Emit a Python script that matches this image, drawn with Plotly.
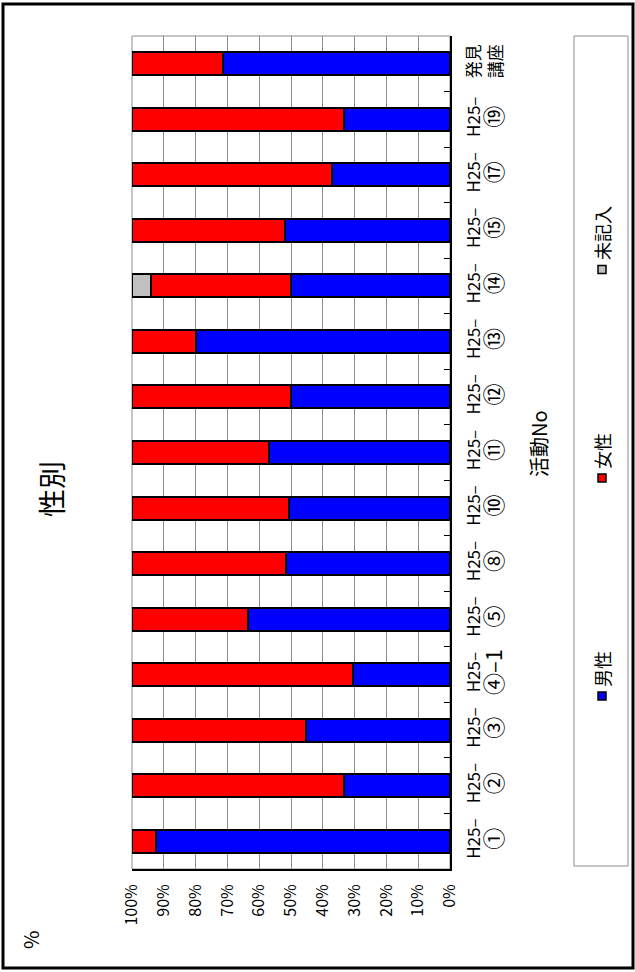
import plotly.graph_objects as go

# Activity numbers (bottom to top) and share of respondents by gender (%)
categories = ["H25-①", "H25-②", "H25-③", "H25-④-1", "H25-⑤",
              "H25-⑧", "H25-⑩", "H25-⑪", "H25-⑫", "H25-⑬",
              "H25-⑭", "H25-⑮", "H25-⑰", "H25-⑲", "発見講座"]
male = [92.4, 33.2, 45.2, 30.6, 63.5, 51.5, 50.7, 56.9, 50.0, 80.0, 50.0, 52.0, 37.0, 33.3, 71.3]
female = [7.6, 66.8, 54.8, 69.4, 36.5, 48.5, 49.3, 43.1, 50.0, 20.0, 44.1, 48.0, 63.0, 66.7, 28.7]
unknown = [0, 0, 0, 0, 0, 0, 0, 0, 0, 0, 5.9, 0, 0, 0, 0]
x_ticks = list(range(0, 101, 10))

W, H = 635, 972
L, R, T, B = 132, 450, 36, 869  # plot area in pixels
FONT = "Noto Sans CJK JP, Liberation Sans, sans-serif"


def px(xp):
    return (xp - L) / (R - L)


def py(yp):
    return (B - yp) / (B - T)


def two_line(cat):
    # "H25-⑤" -> "H25–" over a larger circled number
    if cat.startswith("H25-"):
        rest = cat[4:].replace("-", "–")
        return "H25–<br><span style='font-size:22px'>" + rest + "</span>"
    return cat[:2] + "<br>" + cat[2:]


fig = go.Figure()
for name, vals, col in [("男性", male, "#0000FF"), ("女性", female, "#FF0000"),
                        ("未記入", unknown, "#C0C0C0")]:
    fig.add_trace(go.Bar(
        y=categories, x=vals, name=name, orientation="h",
        marker=dict(color=col, line=dict(color="black", width=2)),
        showlegend=False,
    ))

fig.update_layout(
    width=W, height=H,
    margin=dict(l=L, r=W - R, t=T, b=H - B, pad=0),
    paper_bgcolor="white", plot_bgcolor="white",
    barmode="stack", bargap=0.585,
    font=dict(family=FONT, color="black", size=16),
)
fig.update_xaxes(
    range=[100, 0], tickvals=x_ticks, ticktext=[f"{v}%" for v in x_ticks],
    tickangle=-90, showgrid=True, gridcolor="#8c8c8c", gridwidth=1,
    showline=True, linecolor="black", linewidth=1.5,
    ticks="", tickfont=dict(size=16), ticklabelstandoff=7, zeroline=False,
)
fig.update_yaxes(
    type="category", categoryorder="array", categoryarray=categories,
    tickvals=categories, ticktext=[two_line(c) for c in categories],
    side="right", tickangle=-90, showline=True, linecolor="black", linewidth=1.5,
    ticks="inside", tickson="boundaries", ticklen=6, tickcolor="black",
    showgrid=False, tickfont=dict(size=17), ticklabelstandoff=8,
)

shapes = [
    # plot frame (top/left edges in gray)
    dict(type="rect", xref="paper", yref="paper", x0=0, x1=1, y0=0, y1=1,
         line=dict(color="#8c8c8c", width=1), layer="below"),
    # legend box
    dict(type="rect", xref="paper", yref="paper", x0=px(574), x1=px(628),
         y0=py(866), y1=py(36), line=dict(color="#8c8c8c", width=1)),
    # outer chart border
    dict(type="rect", xref="paper", yref="paper", x0=px(3), x1=px(633),
         y0=py(968), y1=py(4), line=dict(color="black", width=3)),
]

annotations = [
    dict(text="性別", x=px(51), y=py(489), textangle=-90, font=dict(size=28)),
    dict(text="活動No", x=px(538), y=py(444), textangle=-90, font=dict(size=20)),
    dict(text="%", x=px(30), y=py(940), textangle=-90, font=dict(size=20)),
]

# legend entries drawn vertically
legend_items = [("男性", "#0000FF", 675), ("女性", "#FF0000", 457), ("未記入", "#C0C0C0", 239)]
for label, col, cy in legend_items:
    n = len(label)
    half = (n * 19 + 12) / 2
    sq_bottom = cy + half
    shapes.append(dict(type="rect", xref="paper", yref="paper",
                       x0=px(598), x1=px(606), y0=py(sq_bottom), y1=py(sq_bottom - 8),
                       fillcolor=col, line=dict(color="black", width=1.5)))
    annotations.append(dict(text=label, x=px(602), y=py(cy - 6), textangle=-90,
                            font=dict(size=18)))

for a in annotations:
    a.update(xref="paper", yref="paper", showarrow=False,
             xanchor="center", yanchor="middle")

fig.update_layout(shapes=shapes, annotations=annotations)
fig.write_html("out.html")
